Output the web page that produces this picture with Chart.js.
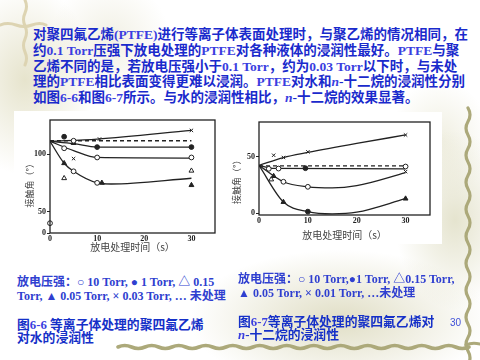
<!DOCTYPE html>
<html>
<head>
<meta charset="utf-8">
<script src="https://cdn.jsdelivr.net/npm/chart.js@4.4.1/dist/chart.umd.min.js"></script>
<style>
html, body { margin: 0; padding: 0; }
body {
    width: 480px; height: 360px; overflow: hidden; position: relative; background: #fff;
    background-image:
        radial-gradient(ellipse 70px 95px at 25px 80px, rgba(226,223,196,0.85), rgba(226,223,196,0) 100%),
        radial-gradient(ellipse 60px 60px at 110px 40px, rgba(232,230,210,0.6), rgba(232,230,210,0) 100%),
        radial-gradient(ellipse 150px 70px at 340px 320px, rgba(214,211,178,0.75), rgba(214,211,178,0) 100%),
        radial-gradient(ellipse 60px 90px at 455px 220px, rgba(218,216,186,0.7), rgba(218,216,186,0) 100%),
        radial-gradient(ellipse 50px 60px at 440px 140px, rgba(230,228,205,0.6), rgba(230,228,205,0) 100%);
}
.white { position: absolute; background: #fff; }
.txt {
    position: absolute; white-space: nowrap; font-weight: bold;
    font-family: "Liberation Serif", "Noto Sans CJK SC", serif;
}
.para { left: 33px; top: 27px; font-size: 13.5px; line-height: 15.8px; color: #1a2acc; }
.lat { color: #3a3ee0; }
.leg { font-size: 12px; line-height: 13.5px; color: #2f3fd0; }
.cap { font-size: 12.8px; line-height: 13.4px; color: #1530c8; }
.pg { left: 450px; top: 317px; font: 10px "Liberation Sans", sans-serif; color: #4050d8; }
canvas { position: absolute; }
svg { position: absolute; left: 0; top: 0; }
</style>
</head>
<body>

<svg width="480" height="360" id="deco"></svg>

<div class="white" style="left:14px; top:111px; width:224px; height:151px;"></div>
<div class="white" style="left:238px; top:112px; width:204px; height:132px;"></div>

<canvas id="waterChart" width="230" height="150" style="left:14px; top:110px;"></canvas>
<canvas id="alkaneChart" width="214" height="132" style="left:226px; top:112px;"></canvas>

<div class="txt para">
对聚四氟乙烯<span class="lat">(PTFE)</span>进行等离子体表面处理时，与聚乙烯的情况相同，在<br>
约<span class="lat">0.1 Torr</span>压强下放电处理的<span class="lat">PTFE</span>对各种液体的浸润性最好。<span class="lat">PTFE</span>与聚<br>
乙烯不同的是，若放电压强小于<span class="lat">0.1 Torr</span>，约为<span class="lat">0.03 Torr</span>以下时，与未处<br>
理的<span class="lat">PTFE</span>相比表面变得更难以浸润。<span class="lat">PTFE</span>对水和<i class="lat">n</i>-十二烷的浸润性分别<br>
如图<span class="lat">6-6</span>和图<span class="lat">6-7</span>所示。与水的浸润性相比，<i class="lat">n</i>-十二烷的效果显著。
</div>

<div class="txt leg" style="left:17px; top:276px;">
放电压强：○ 10 Torr, ● 1 Torr, △ 0.15<br>
Torr, ▲ 0.05 Torr, × 0.03 Torr, … 未处理
</div>
<div class="txt leg" style="left:238px; top:273px;">
放电压强：○ 10 Torr,●1 Torr, △0.15 Torr,<br>
▲ 0.05 Torr, × 0.01 Torr, …未处理
</div>

<div class="txt cap" style="left:17px; top:319px;">
图<span class="lat">6-6</span> 等离子体处理的聚四氟乙烯<br>
对水的浸润性
</div>
<div class="txt cap" style="left:238px; top:316px;">
图<span class="lat">6-7</span>等离子体处理的聚四氟乙烯对<br>
<i class="lat">n</i>-十二烷的浸润性
</div>
<div class="txt pg">30</div>

<script>
// Ось X: время обработки, с
const timeTicks = [0, 10, 20, 30];

// Рис. 6-6: контактный угол воды (ось Y с разрывом внизу)
const waterTicks = [31.5, 50, 100];
const waterTickLabels = ['0', '50', '100'];
const waterUntreated = [[0, 111.5], [30, 111.5]];
const water003 = [[0, 111], [10, 113], [30, 120.5]];
const water1 = [[0, 111], [5, 109], [10, 106], [30, 106]];
const water10 = [[0, 111], [5, 103], [10, 97], [30, 96.5]];
const water005 = [[0, 111], [3, 92], [5, 85], [10, 75], [13, 74], [30, 79]];
const waterOpenCircle = [[3, 105], [5, 111.5], [10, 97], [30, 97], [5, 85], [10, 75], [0, 40]];
const waterDot = [[3, 115], [10, 106], [30, 106]];
const waterOpenTri = [[3, 79], [30, 85.5]];
const waterTri = [[3, 92], [5, 109.5], [11, 75], [30, 73]];
const waterCross = [[5, 96], [10.5, 113], [30, 120.5]];

// Рис. 6-7: контактный угол н-додекана
const alkaneTicks = [0, 50];
const alkaneUntreated = [[0, 42], [30, 42]];
const alkane001 = [[0, 42.5], [5, 49.5], [10, 54], [20, 62], [30, 69.5]];
const alkane1 = [[0, 42.5], [3, 39.8], [30, 39.5]];
const alkane10 = [[0, 42.5], [5, 28], [10, 23.5], [15, 22.5], [20, 24.5], [30, 36]];
const alkane005 = [[0, 42.5], [5, 10], [10, 1.5], [15, -0.5], [20, 1], [30, 13]];
const alkaneOpenCircle = [[2, 39.5], [4, 39.7], [5, 28], [10, 23.5], [30, 41.5]];
const alkaneDot = [[9.5, 40], [10, 1.5]];
const alkaneOpenTri = [[2.5, 30]];
const alkaneTri = [[3, 33], [5, 10], [30, 13]];
const alkaneCross = [[3, 51.5], [5, 49.5], [10, 54.5], [30, 69.5], [30, 37]];

const INK = '#222';
const tickFont = { family: 'Liberation Serif', size: 8, weight: 'bold' };
const titleFont = { family: 'Noto Sans CJK SC', size: 10 };

function toXY(points) {
    return points.map(p => ({ x: p[0], y: p[1] }));
}

// Кривая без маркеров
function curve(points, dashed) {
    return {
        type: 'line',
        data: toXY(points),
        showLine: true,
        borderColor: INK,
        borderWidth: 1.3,
        borderDash: dashed ? [4, 3] : [],
        pointRadius: 0,
        cubicInterpolationMode: 'monotone',
        fill: false
    };
}

// Маркеры без линии
function markers(points, style, filled) {
    return {
        type: 'scatter',
        data: toXY(points),
        showLine: false,
        pointStyle: style,
        pointRadius: style === 'triangle' ? 2.8 : 2.4,
        borderColor: INK,
        borderWidth: 1,
        backgroundColor: filled ? INK : '#fff',
        clip: 5
    };
}

// Рамка вокруг области графика
const boxPlugin = {
    id: 'box',
    afterDatasetsDraw(chart) {
        const { ctx, chartArea: a } = chart;
        ctx.save();
        ctx.strokeStyle = INK;
        ctx.lineWidth = 1.3;
        ctx.strokeRect(a.left, a.top, a.right - a.left, a.bottom - a.top);
        ctx.restore();
    }
};

function xScale(height, padBottom) {
    return {
        type: 'linear',
        min: 0,
        max: 35,
        afterBuildTicks: s => { s.ticks = timeTicks.map(v => ({ value: v })); },
        afterFit: s => { s.height = height; },
        border: { display: false },
        grid: { drawOnChartArea: false, drawTicks: false },
        ticks: { font: tickFont, color: INK, padding: 1, maxRotation: 0, autoSkip: false },
        title: {
            display: true,
            text: '放电处理时间（s）',
            font: titleFont,
            color: '#444',
            padding: { top: 0, bottom: padBottom }
        }
    };
}

function yScale(min, max, values, labels, width, padTop, titleText) {
    return {
        type: 'linear',
        min: min,
        max: max,
        afterBuildTicks: s => { s.ticks = values.map(v => ({ value: v })); },
        afterFit: s => { s.width = width; },
        border: { display: false },
        grid: { drawOnChartArea: false, tickLength: 3, color: INK },
        ticks: {
            font: tickFont, color: INK, padding: 1, autoSkip: false,
            callback: (v, i) => labels[i]
        },
        title: {
            display: true,
            text: titleText,
            font: { family: 'Noto Sans CJK SC', size: 9 },
            color: '#444',
            padding: { top: padTop, bottom: 0 }
        }
    };
}

function createAngleChart(canvasId, datasets, scales, padding) {
    const canvas = document.getElementById(canvasId);
    if (!canvas) return;
    return new Chart(canvas, {
        type: 'scatter',
        data: { datasets: datasets },
        options: {
            responsive: false,
            animation: false,
            devicePixelRatio: 1,
            layout: { padding: padding },
            plugins: { legend: { display: false }, tooltip: { enabled: false } },
            scales: scales
        },
        plugins: [boxPlugin]
    });
}

createAngleChart('waterChart', [
    markers(waterOpenCircle, 'circle', false),
    markers(waterDot, 'circle', true),
    markers(waterOpenTri, 'triangle', false),
    markers(waterTri, 'triangle', true),
    markers(waterCross, 'crossRot', false),
    curve(waterUntreated, true),
    curve(water003, false),
    curve(water1, false),
    curve(water10, false),
    curve(water005, false)
], {
    x: xScale(27, 7),
    y: yScale(31.5, 129.5, waterTicks, waterTickLabels, 36, 10, '接触角（°）\u3000\u3000')
}, { top: 10, right: 29, left: 0, bottom: 0 });

createAngleChart('alkaneChart', [
    markers(alkaneOpenCircle, 'circle', false),
    markers(alkaneDot, 'circle', true),
    markers(alkaneOpenTri, 'triangle', false),
    markers(alkaneTri, 'triangle', true),
    markers(alkaneCross, 'crossRot', false),
    curve(alkaneUntreated, true),
    curve(alkane001, false),
    curve(alkane1, false),
    curve(alkane10, false),
    curve(alkane005, false)
], {
    x: xScale(29, 3),
    y: yScale(-1.5, 81, alkaneTicks, alkaneTicks.map(String), 33, 5, '接触角（°）\u3000\u3000\u3000')
}, { top: 10, right: 10, left: 0, bottom: 0 });

// Декоративные волнистые линии слайда
(function drawDeco() {
    const svg = document.getElementById('deco');
    const ns = 'http://www.w3.org/2000/svg';
    function path(d, color, w) {
        const p = document.createElementNS(ns, 'path');
        p.setAttribute('d', d);
        p.setAttribute('fill', 'none');
        p.setAttribute('stroke', color);
        p.setAttribute('stroke-width', w);
        p.setAttribute('stroke-linecap', 'round');
        svg.appendChild(p);
    }
    let v = 'M468 108';
    for (let i = 0; i < 19; i++) v += ' q' + (i % 2 ? -4 : 4) + ' 6.75 0 13.5';
    path(v, '#aca97a', 3.2);
    let h = 'M118 347';
    for (let i = 0; i < 26; i++) h += ' q6.75 ' + (i % 2 ? 3 : -3) + ' 13.5 0';
    path(h, '#aca97a', 3.6);
    path('M466 345 q6 -3 14 -1', '#aca97a', 3);
    let tl = 'M25 0';
    for (let i = 0; i < 5; i++) tl += ' q' + (i % 2 ? -3 : 3) + ' 6.5 0 13';
    path(tl, '#ddd4b2', 3);
    path('M0 25 q8 -3 16 0 t16 0 t14 0', '#ddd4b2', 3);
})();
</script>
</body>
</html>
